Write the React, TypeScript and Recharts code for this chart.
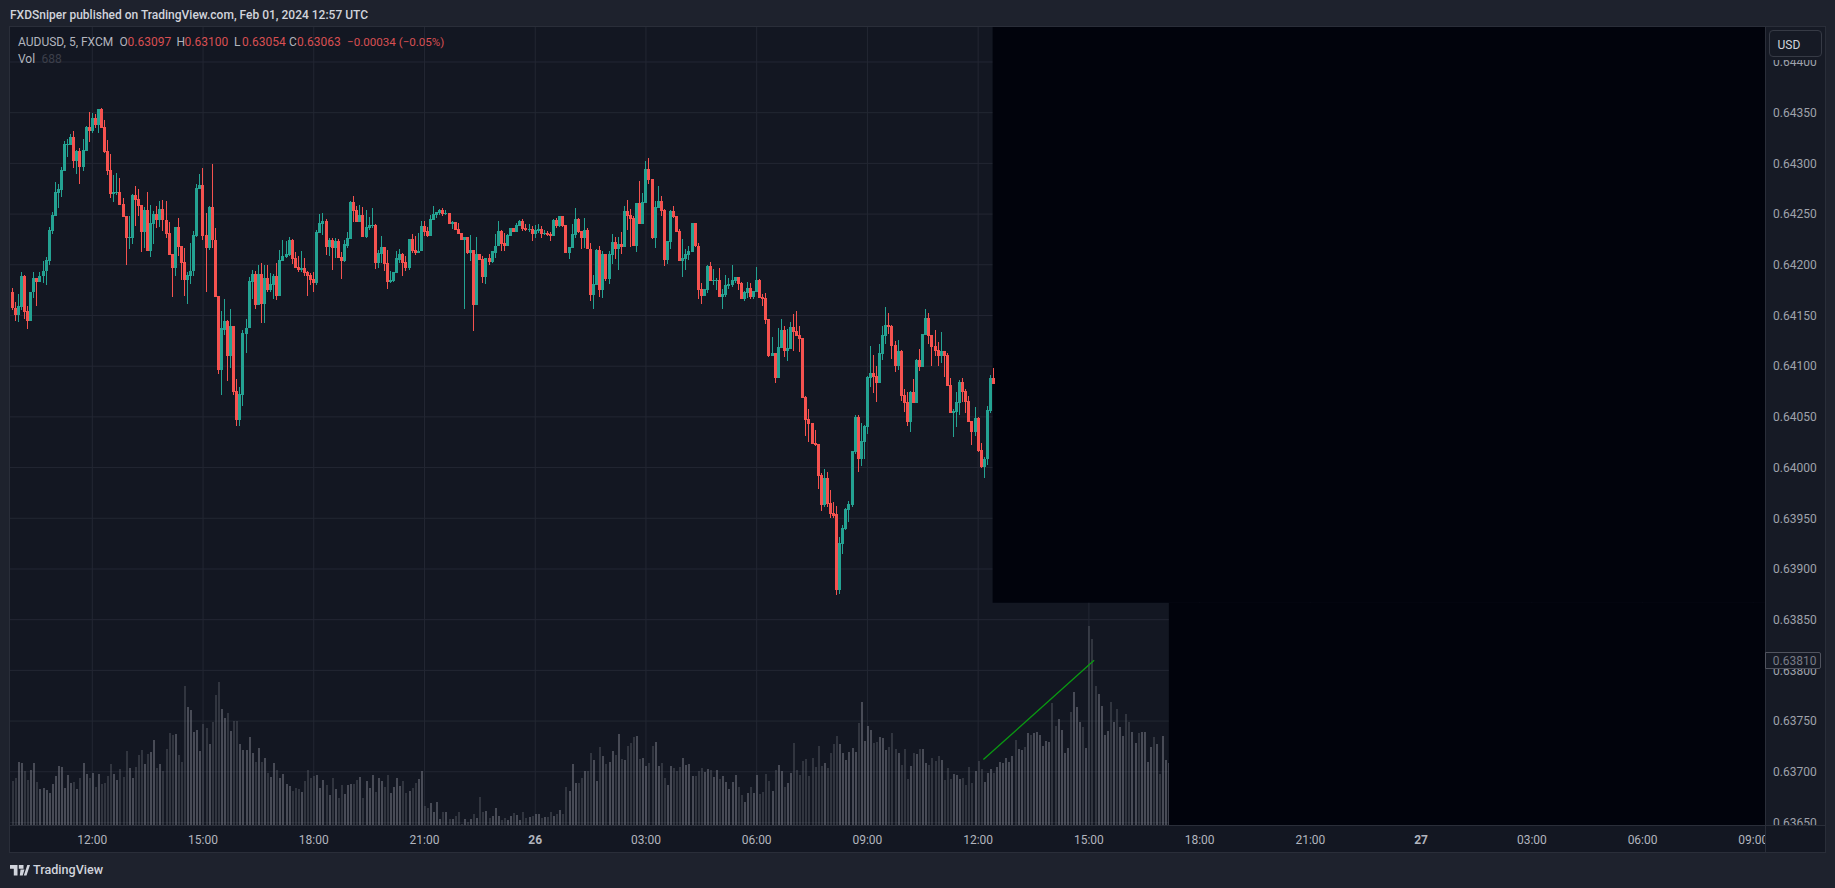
import { Bar, CartesianGrid, ComposedChart, ReferenceArea, ReferenceLine, XAxis, YAxis } from 'recharts';

// AUDUSD 5m, prices in points (0.64173 -> 64173)
const opens = [
  64173,64157,64150,64158,64189,64154,64145,64173,64187,64183,
  64189,64194,64204,64233,64248,64271,64274,64292,64318,64318,
  64326,64302,64312,64296,64312,64336,64332,64345,64338,64354,
  64336,64312,64293,64270,64271,64272,64260,64248,64226,64226,
  64269,64265,64259,64232,64254,64214,64240,64250,64244,64255,
  64244,64231,64211,64197,64237,64219,64203,64185,64189,64194,
  64228,64275,64279,64229,64217,64257,64224,64169,64096,64136,
  64145,64110,64140,64076,64047,64072,64132,64138,64183,64191,
  64160,64191,64161,64187,64175,64180,64189,64169,64204,64208,
  64210,64224,64207,64198,64195,64197,64193,64190,64186,64182,
  64231,64240,64243,64218,64224,64217,64223,64208,64204,64219,
  64225,64262,64254,64242,64249,64227,64236,64238,64239,64202,
  64211,64218,64202,64183,64184,64192,64205,64211,64203,64197,
  64225,64215,64212,64214,64238,64233,64228,64244,64249,64251,
  64254,64250,64251,64240,64242,64235,64231,64224,64227,64212,
  64215,64160,64211,64206,64188,64207,64203,64212,64219,64233,
  64221,64219,64228,64236,64232,64238,64243,64236,64234,64235,
  64230,64233,64235,64230,64231,64230,64228,64244,64238,64248,
  64239,64212,64217,64229,64245,64233,64226,64234,64216,64170,
  64180,64215,64175,64211,64186,64210,64222,64216,64220,64218,
  64253,64249,64246,64219,64261,64240,64261,64294,64285,64226,
  64256,64263,64254,64205,64222,64253,64248,64233,64204,64206,
  64210,64213,64241,64219,64176,64169,64175,64199,64184,64184,
  64185,64168,64170,64179,64180,64184,64188,64182,64166,64172,
  64177,64168,64173,64185,64168,64167,64147,64110,64113,64088,
  64118,64136,64115,64117,64139,64135,64131,64128,64070,64048,
  64044,64024,64023,63993,63963,63990,63965,63955,63954,63879,
  63925,63939,63958,63963,64015,64050,64008,64025,64040,64088,
  64093,64090,64083,64112,64130,64141,64140,64121,64100,64115,
  64072,64065,64045,64075,64064,64106,64099,64131,64148,64131,
  64120,64116,64110,64115,64111,64081,64054,64055,64064,64084,
  64076,64066,64046,64035,64049,64017,64001,64008,64056,64088,
];
const highs = [
  64177,64163,64171,64193,64190,64159,64173,64193,64187,64193,
  64204,64208,64237,64252,64282,64280,64296,64322,64324,64329,
  64332,64313,64315,64324,64337,64351,64350,64349,64354,64355,
  64343,64323,64309,64289,64291,64286,64266,64248,64248,64270,
  64278,64275,64259,64257,64272,64259,64253,64258,64263,64264,
  64263,64242,64211,64237,64246,64219,64217,64193,64221,64233,
  64280,64290,64295,64251,64258,64299,64236,64169,64154,64166,
  64146,64156,64140,64087,64079,64136,64147,64188,64195,64194,
  64200,64202,64200,64200,64192,64191,64202,64215,64224,64223,
  64227,64225,64213,64209,64214,64207,64194,64192,64193,64234,
  64250,64251,64245,64226,64226,64226,64225,64213,64224,64232,
  64263,64268,64258,64259,64257,64254,64247,64256,64240,64215,
  64228,64218,64215,64194,64193,64214,64216,64212,64209,64225,
  64230,64228,64231,64243,64243,64237,64249,64258,64252,64255,
  64256,64254,64251,64243,64242,64241,64231,64227,64227,64229,
  64215,64227,64211,64209,64207,64211,64214,64230,64243,64234,
  64231,64230,64236,64236,64241,64244,64245,64240,64240,64238,
  64239,64240,64238,64234,64233,64232,64245,64246,64248,64248,
  64239,64218,64240,64256,64246,64233,64246,64236,64221,64190,
  64216,64219,64214,64211,64214,64230,64227,64227,64232,64258,
  64264,64255,64248,64261,64283,64271,64302,64305,64285,64263,
  64278,64268,64255,64223,64254,64258,64248,64235,64225,64216,
  64219,64241,64241,64221,64182,64176,64200,64203,64196,64187,
  64197,64176,64190,64187,64200,64188,64188,64183,64174,64183,
  64182,64174,64198,64186,64171,64172,64147,64129,64113,64138,
  64147,64140,64137,64144,64151,64154,64140,64128,64071,64058,
  64044,64037,64023,63995,63999,63996,63978,63966,63962,63932,
  63943,63960,63967,64016,64052,64052,64044,64042,64090,64120,
  64111,64100,64122,64140,64158,64152,64141,64125,64126,64116,
  64077,64075,64076,64087,64107,64117,64132,64156,64152,64131,
  64136,64124,64134,64115,64113,64088,64058,64075,64086,64088,
  64077,64071,64046,64060,64050,64024,64010,64061,64091,64098,
];
const lows = [
  64155,64145,64144,64155,64147,64137,64145,64167,64159,64183,
  64182,64180,64200,64230,64248,64256,64267,64292,64306,64318,
  64295,64290,64280,64292,64312,64321,64330,64335,64330,64335,
  64310,64289,64266,64262,64269,64259,64247,64200,64216,64220,
  64238,64248,64213,64217,64214,64208,64220,64236,64237,64233,
  64226,64210,64168,64189,64209,64185,64169,64161,64181,64189,
  64227,64275,64224,64173,64215,64217,64168,64092,64072,64131,
  64085,64098,64072,64041,64041,64061,64113,64138,64166,64156,
  64160,64143,64143,64173,64173,64166,64165,64169,64204,64207,
  64209,64201,64197,64193,64193,64189,64169,64180,64173,64180,
  64231,64229,64210,64209,64195,64207,64207,64186,64203,64217,
  64225,64242,64242,64242,64227,64226,64234,64236,64196,64197,
  64202,64194,64176,64182,64183,64192,64202,64189,64194,64195,
  64212,64210,64212,64214,64228,64227,64228,64244,64246,64249,
  64248,64249,64240,64235,64234,64230,64224,64156,64211,64204,
  64135,64160,64205,64182,64181,64200,64202,64207,64219,64214,
  64214,64219,64228,64232,64232,64238,64233,64233,64232,64223,
  64226,64231,64226,64229,64228,64223,64228,64236,64237,64237,
  64212,64206,64217,64226,64231,64216,64217,64216,64164,64156,
  64180,64168,64167,64184,64181,64201,64206,64195,64211,64218,
  64234,64218,64219,64213,64240,64240,64261,64280,64225,64217,
  64256,64248,64199,64201,64216,64246,64232,64204,64188,64195,
  64205,64213,64218,64166,64161,64169,64172,64184,64180,64175,
  64168,64156,64168,64176,64178,64182,64175,64166,64164,64167,
  64166,64166,64173,64167,64159,64142,64109,64110,64083,64088,
  64118,64109,64105,64117,64115,64130,64114,64069,64031,64025,
  64023,64021,63979,63957,63961,63961,63950,63950,63874,63875,
  63915,63938,63946,63961,64013,63996,64002,64008,64033,64079,
  64074,64065,64083,64106,64122,64132,64107,64094,64096,64066,
  64055,64041,64035,64064,64064,64095,64099,64131,64122,64100,
  64110,64100,64103,64089,64080,64054,64030,64040,64052,64065,
  64054,64045,64022,64031,64015,64000,63990,64003,64054,64082,
];
const closes = [
  64157,64150,64159,64189,64153,64145,64173,64187,64183,64189,
  64194,64205,64234,64249,64272,64275,64293,64319,64319,64326,
  64302,64312,64296,64313,64336,64332,64345,64338,64354,64335,
  64311,64292,64270,64272,64272,64259,64247,64226,64227,64269,
  64264,64258,64232,64254,64214,64241,64250,64244,64255,64244,
  64230,64210,64197,64237,64218,64202,64185,64190,64194,64229,
  64276,64279,64228,64217,64257,64224,64168,64096,64138,64145,
  64110,64140,64075,64047,64073,64133,64138,64184,64191,64160,
  64191,64161,64187,64175,64181,64189,64169,64205,64209,64211,
  64224,64206,64197,64195,64197,64192,64189,64185,64182,64232,
  64241,64243,64218,64224,64217,64223,64207,64204,64220,64226,
  64262,64253,64242,64249,64227,64237,64239,64239,64202,64212,
  64218,64201,64183,64185,64193,64207,64211,64202,64197,64225,
  64214,64212,64214,64238,64232,64228,64245,64250,64252,64254,
  64250,64251,64240,64242,64234,64230,64224,64227,64212,64215,
  64160,64211,64205,64188,64207,64203,64214,64219,64233,64220,
  64219,64229,64236,64232,64239,64243,64235,64234,64235,64230,
  64234,64235,64230,64231,64229,64228,64244,64238,64248,64238,
  64212,64218,64230,64245,64232,64226,64234,64216,64170,64181,
  64215,64175,64211,64186,64211,64222,64216,64220,64218,64253,
  64248,64245,64219,64261,64240,64262,64294,64284,64226,64257,
  64263,64253,64205,64223,64253,64247,64232,64204,64207,64211,
  64214,64241,64219,64175,64169,64176,64199,64184,64185,64185,
  64168,64171,64180,64181,64185,64188,64181,64166,64173,64177,
  64168,64174,64185,64167,64166,64146,64110,64113,64088,64119,
  64136,64115,64118,64139,64134,64130,64127,64069,64047,64043,
  64023,64022,63992,63963,63990,63964,63954,63952,63879,63926,
  63940,63959,63964,64016,64050,64008,64026,64041,64089,64093,
  64089,64083,64113,64131,64141,64139,64120,64100,64115,64071,
  64064,64045,64075,64064,64106,64099,64132,64148,64130,64119,
  64115,64110,64115,64110,64080,64054,64056,64065,64084,64075,
  64065,64045,64035,64049,64016,64001,64008,64057,64088,64082,
];
const volumes = [
  491,525,703,692,603,502,614,692,480,402,
  413,391,357,458,547,658,647,413,558,469,
  480,402,525,692,569,525,580,424,569,458,
  469,547,681,569,502,625,536,826,636,525,
  647,781,837,681,792,815,949,636,681,603,
  848,1027,1004,1016,781,703,1551,1317,1283,1038,
  1060,826,1127,1083,904,1149,1451,1596,1295,1194,
  1250,1049,1161,1161,904,837,837,982,804,703,
  859,703,748,580,536,692,614,525,569,458,
  435,379,413,402,368,491,614,
  525,547,558,413,502,446,335,525,402,301,
  446,346,446,458,458,502,536,301,491,413,
  558,368,525,491,424,558,357,424,525,435,
  491,357,379,413,469,513,603,212,190,246,
  145,257,67,145,145,67,67,100,145,11,
  67,33,67,123,78,312,145,156,78,100,
  190,100,56,78,56,100,134,112,56,145,
  78,89,100,123,123,78,89,89,145,100,
  123,167,123,424,379,681,469,469,525,603,
  603,804,725,491,870,
  770,681,703,826,781,1016,737,725,882,915,
  982,993,737,748,658,692,882,926,658,692,
  525,446,658,636,603,647,748,670,681,547,
  547,603,636,591,625,614,536,614,513,547,
  480,402,480,558,424,335,257,357,424,357,
  558,346,368,569,491,379,614,670,603,424,
  469,580,915,614,558,714,737,547,748,647,
  882,658,692,636,804,904,993,904,804,725,
  815,859,815,1138,1373,937,1105,1060,915,926,
  982,971,837,870,
  1027,848,804,670,848,513,658,804,792,848,
  848,692,670,748,714,770,725,502,636,513,
  569,558,513,525,446,647,469,603,714,625,
  480,580,625,580,647,703,692,748,703,770,
  949,848,837,870,1027,1004,1027,1038,1004,882,
  937,926,1362,1105,1183,1060,804,859,1261,1484,
  1317,1149,1094,859,2221,2076,1551,1462,1328,1004,
  1049,1373,1149,1295,1094,993,1239,1149,1038,915,
  1027,1038,1038,703,870,982,904,569,993,725,
  688,
];
// bars whose candle sits behind the black box, darker shade = down bar
const hiddenDownBars = [326, 329, 331, 338, 339, 344, 348, 350, 351, 352, 357, 359, 362, 363, 366, 371, 373];

const priceTicks = [63650, 63700, 63750, 63800, 63850, 63900, 63950, 64000, 64050, 64100, 64150, 64200, 64250, 64300, 64350, 64400];
const timeTicks = [26, 62, 98, 134, 170, 206, 242, 278, 314, 350, 386, 422, 458, 494, 530, 566];
const timeLabels = ['12:00', '15:00', '18:00', '21:00', '26', '03:00', '06:00', '09:00', '12:00', '15:00', '18:00', '21:00', '27', '03:00', '06:00', '09:00'];
const ohlcLegend = [
  { key: 'O', value: '0.63097', x: 119.5 },
  { key: 'H', value: '0.63100', x: 176.5 },
  { key: 'L', value: '0.63054', x: 234 },
  { key: 'C', value: '0.63063', x: 289 },
];

const candles = opens.map((open, i) => ({ i, open, high: highs[i], low: lows[i], close: closes[i] }));
const volumeBars = volumes.map((volume, i) => ({
  i,
  volume,
  down: i < closes.length ? closes[i] < opens[i] : hiddenDownBars.includes(i),
}));

const UP = '#24a292';
const DOWN = '#f5524f';
const GRID = '#232733';
const BORDER = '#2a2e39';
const BLACK = '#01030c';
const FONT = 'Roboto, sans-serif';
const PRICE_DOMAIN = [63647.5, 64434.5];
const INDEX_DOMAIN = [-0.75, 569.8];
const MARGIN_FULL = { top: 27, right: 10, bottom: 36, left: 10 };
const MARGIN_PLOT = { top: 27, right: 70, bottom: 63, left: 10 };

function CandleShape(props: any) {
  const { x, y, width, height, payload } = props;
  const top = Math.min(y, y + height);
  const range = payload.high - payload.low;
  const k = Math.abs(height) / range;
  const bodyTop = top + (payload.high - Math.max(payload.open, payload.close)) * k;
  const bodyH = Math.max(1, Math.abs(payload.open - payload.close) * k);
  const color = payload.close >= payload.open ? UP : DOWN;
  return (
    <g shapeRendering="crispEdges">
      <rect x={x + width / 2 - 0.5} y={top} width={1} height={Math.abs(height)} fill={color} />
      <rect x={x} y={bodyTop} width={width} height={bodyH} fill={color} />
    </g>
  );
}

function VolumeShape(props: any) {
  const { x, y, width, height, payload } = props;
  return (
    <rect
      x={x}
      y={y}
      width={width}
      height={height}
      shapeRendering="crispEdges"
      fill={payload.down ? 'rgba(120,123,134,0.3)' : 'rgba(120,123,134,0.52)'}
    />
  );
}

function TimeTick(props: any) {
  const { x, y, payload } = props;
  const label = timeLabels[timeTicks.indexOf(payload.value)];
  const isDate = label.length === 2;
  return (
    <text x={x} y={y + 11} textAnchor="middle" fontSize={12} fontFamily={FONT} fontWeight={isDate ? 700 : 400} fill="#b2b5be">
      {label}
    </text>
  );
}

function box(left: number, top: number, width: number, height: number, background: string, extra: object = {}) {
  return { position: 'absolute', left, top, width, height, background, boxSizing: 'border-box', ...extra } as React.CSSProperties;
}

function text(left: number, top: number, size: number, color: string, extra: object = {}) {
  return { position: 'absolute', left, top, fontSize: size, lineHeight: '16px', color, whiteSpace: 'nowrap', ...extra } as React.CSSProperties;
}

export default function App() {
  return (
    <div style={{ position: 'fixed', left: 0, top: 0, width: 1835, height: 888, background: '#1e222d', overflow: 'hidden', fontFamily: FONT }}>
      <div style={text(10, 7, 12, '#d1d4dc', { fontWeight: 500 })}>FXDSniper published on TradingView.com, Feb 01, 2024 12:57 UTC</div>

      <div style={box(9, 26, 1817, 827, '#131722', { border: `1px solid ${BORDER}` })} />
      <div style={box(1766, 27, 59, 798, '#161a25')} />

      <div style={{ position: 'absolute', left: 0, top: 0 }}>
        <ComposedChart width={1835} height={888} data={volumeBars} margin={MARGIN_FULL}>
          <CartesianGrid
            stroke={GRID}
            xAxisId="time"
            yAxisId="price"
            horizontalValues={priceTicks}
            verticalValues={timeTicks}
          />
          <XAxis
            xAxisId="time"
            dataKey="i"
            type="number"
            domain={INDEX_DOMAIN}
            ticks={timeTicks}
            interval={0}
            height={27}
            axisLine={false}
            tickLine={false}
            tick={TimeTick}
            allowDataOverflow
          />
          <YAxis
            yAxisId="price"
            orientation="right"
            type="number"
            domain={PRICE_DOMAIN}
            ticks={priceTicks}
            interval={0}
            width={60}
            axisLine={false}
            tickLine={false}
            tickSize={0}
            tickMargin={8}
            allowDataOverflow
            tick={{ fontSize: 12, fill: '#9fa2ab', fontFamily: FONT }}
            tickFormatter={(v: number) => (v / 100000).toFixed(5)}
          />
          <YAxis yAxisId="volume" hide type="number" domain={[0, 8898]} allowDataOverflow />
          <Bar xAxisId="time" yAxisId="volume" dataKey="volume" barSize={2} shape={VolumeShape} isAnimationActive={false} />
        </ComposedChart>
      </div>

      <div style={{ position: 'absolute', left: 0, top: 0 }}>
        <ComposedChart width={1835} height={888} data={candles} margin={MARGIN_PLOT}>
          <XAxis hide dataKey="i" type="number" domain={INDEX_DOMAIN} allowDataOverflow />
          <YAxis hide type="number" domain={PRICE_DOMAIN} allowDataOverflow />
          <Bar dataKey={(d: any) => [d.low, d.high]} barSize={3} shape={CandleShape} isAnimationActive={false} />
          <ReferenceArea x1={318.7} x2={569.8} y1={63866.6} y2={64434.5} fill={BLACK} fillOpacity={1} stroke="none" />
          <ReferenceArea x1={376} x2={569.8} y1={63647.5} y2={63866.6} fill={BLACK} fillOpacity={1} stroke="none" />
          <ReferenceLine
            segment={[{ x: 315.7, y: 63712 }, { x: 351.7, y: 63810 }]}
            stroke="#0a9a12"
            strokeWidth={1.3}
            ifOverflow="visible"
          />
        </ComposedChart>
      </div>

      {/* frame lines and corner over the charts, the low labels get clipped here */}
      <div style={box(1766, 826, 59, 26, '#131722')} />
      <div style={box(1766, 27, 59, 33, '#161a25')} />
      <div style={box(10, 825, 1815, 1, BORDER)} />
      <div style={box(1765, 27, 1, 825, BORDER)} />

      <div style={text(18, 34, 12, '#b2b5be')}>AUDUSD, 5, FXCM</div>
      {ohlcLegend.map((o) => (
        <div key={o.key}>
          <div style={text(o.x, 34, 12, '#b2b5be')}>{o.key}</div>
          <div style={text(o.x + 8, 34, 12, '#d84f52')}>{o.value}</div>
        </div>
      ))}
      <div style={text(347, 34, 11.6, '#d84f52')}>−0.00034 (−0.05%)</div>
      <div style={text(18, 51, 12, '#b2b5be')}>Vol</div>
      <div style={text(41.5, 51, 12, '#3c3f4a')}>688</div>

      <div style={box(1769, 30, 53, 27, '#161a25', { border: '1px solid #363a45', borderRadius: 4 })} />
      <div style={text(1777.5, 36.5, 12, '#d1d4dc')}>USD</div>

      <div style={box(1765, 652, 56, 17, '#161a25', { border: '1px solid #50535e', borderRadius: '0 2px 2px 0' })} />
      <div style={text(1772.8, 652.5, 12, '#787b86')}>0.63810</div>

      <svg style={{ position: 'absolute', left: 10, top: 865 }} width={20} height={11} viewBox="0 0 20 11">
        <path d="M0 0H7.5V10.5H3.8V3.7H0Z M13.8 10.5L17.3 0H20L16.5 10.5Z M8.8 0H13.5V3.7H8.8Z M10.5 4.5H14.5L12.7 10.5H9.8Z" fill="#d1d4dc" />
      </svg>
      <div style={text(33, 862, 12.6, '#d1d4dc', { fontWeight: 500 })}>TradingView</div>
    </div>
  );
}
